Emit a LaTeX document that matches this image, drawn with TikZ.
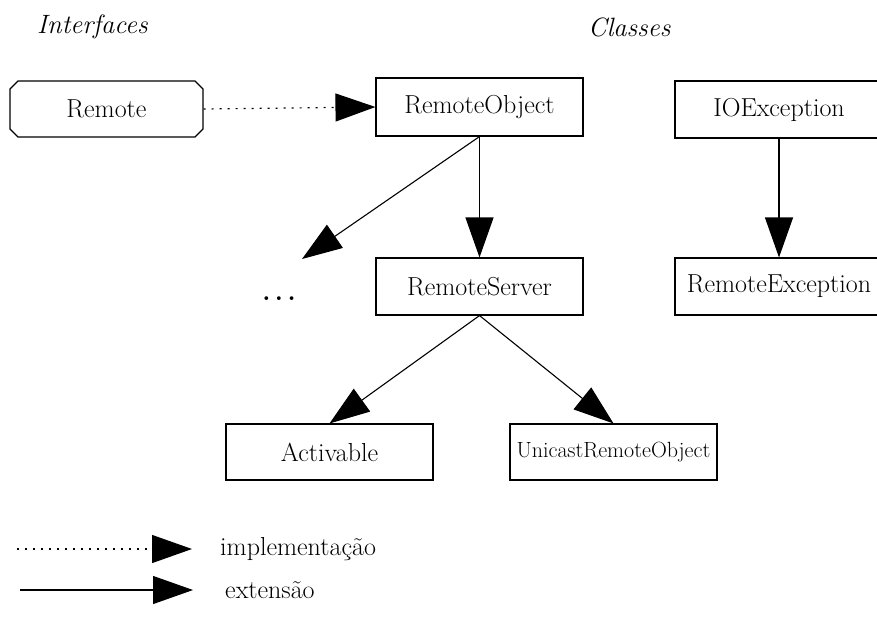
\documentclass[tikz,border=0pt]{standalone}
\usetikzlibrary{arrows.meta,shapes.misc}
\begin{document}
\begin{tikzpicture}[x=1pt,y=-1pt,
  box/.style={draw,line width=1.1pt,rectangle,inner sep=0pt,font=\fontsize{26}{30}\selectfont},
  ibox/.style={draw,line width=1.1pt,chamfered rectangle,chamfered rectangle xsep=4pt,chamfered rectangle ysep=4pt,inner sep=0pt,font=\fontsize{26}{30}\selectfont,minimum width=193pt,minimum height=56pt},
  head/.style={-{Triangle[length=40pt,width=28pt]}},
  ext/.style={head,line width=1.1pt},
  impl/.style={head,line width=1.2pt,dash pattern=on 2pt off 6pt},
  txt/.style={font=\fontsize{26}{30}\selectfont,inner sep=0pt},
  ttl/.style={font=\fontsize{26.5}{30}\selectfont\itshape,inner sep=0pt,anchor=west}
]
\useasboundingbox (0,0) rectangle (877,619);
\clip (0,0) rectangle (877,619);
\node[ttl] (tI) at (37,27) {Interfaces};
\node[ttl] (tC) at (588,27) {Classes};

\node[ibox] (remote) at (106.5,109) {Remote};
\node[box,minimum width=207pt,minimum height=58pt] (robj) at (479.5,107) {RemoteObject};
\node[box,minimum width=208pt,minimum height=57pt] (ioe) at (779,109.5) {IOException};
\node[box,minimum width=207pt,minimum height=57pt] (rserv) at (479.5,286.5) {RemoteServer};
\node[box,minimum width=208pt,minimum height=57pt] (rexc) at (779,286.5) {RemoteException};
\node[box,minimum width=207pt,minimum height=56pt] (act) at (329.5,452) {Activable};
\node[box,minimum width=207pt,minimum height=56pt,font=\fontsize{22}{26}\selectfont] (uro) at (613.5,452) {UnicastRemoteObject};
\node[txt,font=\fontsize{26}{30}\selectfont\bfseries] (dots) at (279,299) {.\kern4.5pt.\kern4.5pt.};
\coordinate (dtip) at (302,259);

\draw[impl] (remote.east) -- (robj.west);
\draw[ext] (robj.south) -- (rserv.north);
\draw[ext] (ioe.south) -- (rexc.north);
\draw[ext] (robj.south) -- (dtip);
\draw[ext] (rserv.south) -- (act.north);
\draw[ext] (rserv.south) -- (uro.north);

\coordinate (l1a) at (17,549);
\coordinate (l1b) at (192,549);
\coordinate (l2a) at (20,590);
\coordinate (l2b) at (193,590);
\draw[impl] (l1a) -- (l1b);
\draw[ext] (l2a) -- (l2b);
\node[txt,anchor=west] (limpl) at (220,549) {implementação};
\node[txt,anchor=west] (lext) at (225,590) {extensão};
\end{tikzpicture}
\end{document}
